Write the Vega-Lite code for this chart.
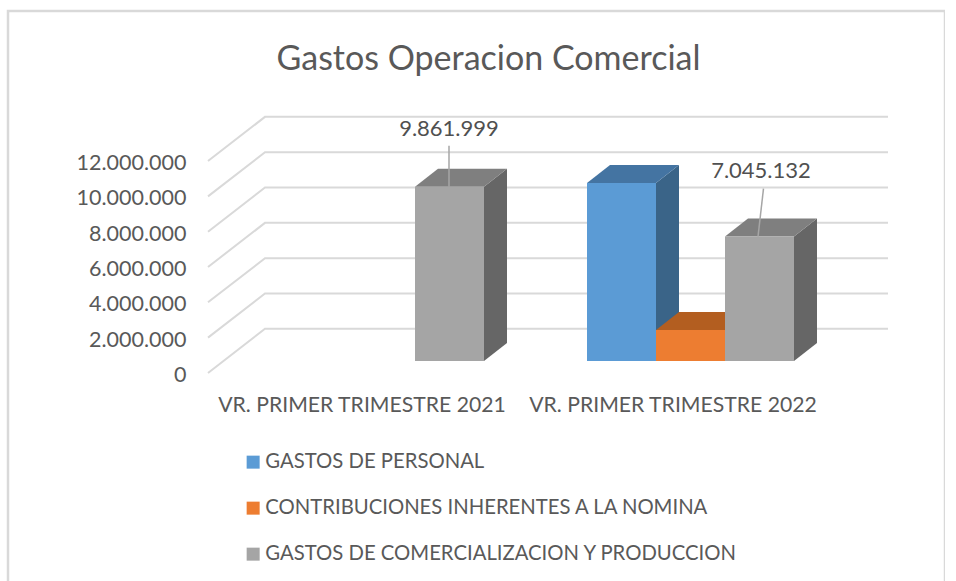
{
"$schema":"https://vega.github.io/schema/vega-lite/v6.json",
"width":937,"height":575,
"autosize":{"type":"none"},
"padding":{"left":8,"top":11,"right":0,"bottom":0},
"background":"white",
"view":{"stroke":"#d9d9d9","strokeWidth":2.5,"fill":"white"},
"title":{"text":"Gastos Operacion Comercial","font":"Lato","fontSize":34,"fontWeight":"normal","color":"#595959","anchor":"middle","orient":"top","offset":0,"dx":12,"dy":66},
"config":{"font":"Lato"},
"datasets":{
"bars":[
{"period":"VR. PRIMER TRIMESTRE 2021","series":"GASTOS DE COMERCIALIZACION Y PRODUCCION","value":9861999},
{"period":"VR. PRIMER TRIMESTRE 2022","series":"GASTOS DE PERSONAL","value":10080000},
{"period":"VR. PRIMER TRIMESTRE 2022","series":"CONTRIBUCIONES INHERENTES A LA NOMINA","value":1750000},
{"period":"VR. PRIMER TRIMESTRE 2022","series":"GASTOS DE COMERCIALIZACION Y PRODUCCION","value":7045132}
],
"grid":[{"v":0},{"v":2000000},{"v":4000000},{"v":6000000},{"v":8000000},{"v":10000000},{"v":12000000}],
"periods":[{"period":"VR. PRIMER TRIMESTRE 2021"},{"period":"VR. PRIMER TRIMESTRE 2022"}]
},
"layer":[
{"data":{"name":"grid"},
 "transform":[{"calculate":"[0,1,2]","as":"k"},{"flatten":["k"]},
  {"calculate":"datum.k==0?208:datum.k==1?265:888","as":"px"},
  {"calculate":"datum.v+(datum.k==0?0:2500000)","as":"py"}],
 "mark":{"type":"line","color":"#d9d9d9","strokeWidth":2},
 "encoding":{
  "x":{"field":"px","type":"quantitative","scale":{"domain":[8,945],"nice":false,"zero":false},"axis":null},
  "y":{"field":"py","type":"quantitative","scale":{"domain":[-12058000,20492000],"nice":false,"zero":false},
   "axis":{"orient":"left","offset":-182,"values":[0,2000000,4000000,6000000,8000000,10000000,12000000],"title":null,"grid":false,"domain":false,"ticks":false,"labelPadding":4,"labelOffset":2.5,"labelFont":"Lato","labelFontSize":21.5,"labelColor":"#595959","labelExpr":"replace(format(datum.value,','),/,/g,'.')"}},
  "detail":{"field":"v"},
  "order":{"field":"k"}}},
{"data":{"name":"bars"},
 "transform":[
  {"calculate":"indexof(['GASTOS DE PERSONAL','CONTRIBUCIONES INHERENTES A LA NOMINA','GASTOS DE COMERCIALIZACION Y PRODUCCION'],datum.series)","as":"idx"},
  {"calculate":"(indexof(datum.period,'2021')>=0?277:587)+69*datum.idx","as":"xl"},
  {"calculate":"[0,1]","as":"k"},{"flatten":["k"]},
  {"calculate":"datum.xl+69+23*datum.k","as":"sx"},
  {"calculate":"679000+1019000*datum.k","as":"sy"},
  {"calculate":"679000+datum.value+1019000*datum.k","as":"sy2"},
  {"calculate":"datum.period+datum.series","as":"key"}],
 "mark":{"type":"area"},
 "encoding":{
  "x":{"field":"sx","type":"quantitative"},
  "y":{"field":"sy","type":"quantitative"},
  "y2":{"field":"sy2"},
  "detail":{"field":"key"},
  "color":{"field":"series","type":"nominal","legend":null,"scale":{"domain":["GASTOS DE PERSONAL","CONTRIBUCIONES INHERENTES A LA NOMINA","GASTOS DE COMERCIALIZACION Y PRODUCCION"],"range":["#3a6488","#a85a20","#666666"]}}}},
{"data":{"name":"bars"},
 "transform":[
  {"calculate":"indexof(['GASTOS DE PERSONAL','CONTRIBUCIONES INHERENTES A LA NOMINA','GASTOS DE COMERCIALIZACION Y PRODUCCION'],datum.series)","as":"idx"},
  {"calculate":"(indexof(datum.period,'2021')>=0?277:587)+69*datum.idx","as":"xl"},
  {"calculate":"[0,1]","as":"k"},{"flatten":["k"]},
  {"calculate":"datum.xl+23*datum.k","as":"tx"},
  {"calculate":"datum.xl+69+23*datum.k","as":"tx2"},
  {"calculate":"679000+datum.value+1019000*datum.k","as":"ty"},
  {"calculate":"datum.period+datum.series","as":"key"}],
 "mark":{"type":"area","orient":"horizontal"},
 "encoding":{
  "x":{"field":"tx","type":"quantitative"},
  "x2":{"field":"tx2"},
  "y":{"field":"ty","type":"quantitative"},
  "detail":{"field":"key"},
  "color":{"field":"series","type":"nominal","legend":null,"scale":{"domain":["GASTOS DE PERSONAL","CONTRIBUCIONES INHERENTES A LA NOMINA","GASTOS DE COMERCIALIZACION Y PRODUCCION"],"range":["#4474a2","#b35e20","#7f7f7f"]}}}},
{"data":{"name":"bars"},
 "transform":[
  {"calculate":"indexof(['GASTOS DE PERSONAL','CONTRIBUCIONES INHERENTES A LA NOMINA','GASTOS DE COMERCIALIZACION Y PRODUCCION'],datum.series)","as":"idx"},
  {"calculate":"(indexof(datum.period,'2021')>=0?277:587)+69*datum.idx","as":"xl"},
  {"calculate":"datum.xl+69","as":"xr"},
  {"calculate":"679000","as":"b"},
  {"calculate":"679000+datum.value","as":"t"}],
 "mark":{"type":"rect"},
 "encoding":{
  "x":{"field":"xl","type":"quantitative"},
  "x2":{"field":"xr"},
  "y":{"field":"b","type":"quantitative"},
  "y2":{"field":"t"},
  "color":{"field":"series","type":"nominal","scale":{"domain":["GASTOS DE PERSONAL","CONTRIBUCIONES INHERENTES A LA NOMINA","GASTOS DE COMERCIALIZACION Y PRODUCCION"],"range":["#5b9bd5","#ed7d31","#a5a5a5"]},
   "legend":{"orient":"none","legendX":235,"legendY":441,"title":null,"symbolType":"square","symbolSize":169,"symbolStrokeWidth":0,"labelFont":"Lato","labelFontSize":20.3,"labelColor":"#595959","labelLimit":600,"rowPadding":25,"labelOffset":2}}}},
{"data":{"name":"bars"},
 "transform":[
  {"filter":"datum.series=='GASTOS DE COMERCIALIZACION Y PRODUCCION'"},
  {"calculate":"[0,1]","as":"k"},{"flatten":["k"]},
  {"calculate":"indexof(datum.period,'2021')>=0?449:758+5.5*datum.k","as":"lx"},
  {"calculate":"679000+datum.value+datum.k*(indexof(datum.period,'2021')>=0?2321000:2717000)","as":"ly"}],
 "mark":{"type":"line","color":"#a6a6a6","strokeWidth":1.5},
 "encoding":{
  "x":{"field":"lx","type":"quantitative"},
  "y":{"field":"ly","type":"quantitative"},
  "detail":{"field":"period"},
  "order":{"field":"k"}}},
{"data":{"name":"bars"},
 "transform":[
  {"filter":"datum.series=='GASTOS DE COMERCIALIZACION Y PRODUCCION'"},
  {"calculate":"indexof(datum.period,'2021')>=0?449:761","as":"lx"},
  {"calculate":"679000+datum.value+(indexof(datum.period,'2021')>=0?3283000:3736000)","as":"ly"},
  {"calculate":"replace(format(datum.value,','),/,/g,'.')","as":"lab"}],
 "mark":{"type":"text","font":"Lato","fontSize":22,"color":"#505050","baseline":"middle","align":"center"},
 "encoding":{
  "x":{"field":"lx","type":"quantitative"},
  "y":{"field":"ly","type":"quantitative"},
  "text":{"field":"lab"}}},
{"data":{"name":"periods"},
 "transform":[
  {"calculate":"indexof(datum.period,'2021')>=0?362:673","as":"cx"},
  {"calculate":"-1870000","as":"cy"}],
 "mark":{"type":"text","font":"Lato","fontSize":21.2,"color":"#595959","baseline":"middle","align":"center"},
 "encoding":{
  "x":{"field":"cx","type":"quantitative"},
  "y":{"field":"cy","type":"quantitative"},
  "text":{"field":"period"}}}
],
"resolve":{"scale":{"color":"independent"}}
}
